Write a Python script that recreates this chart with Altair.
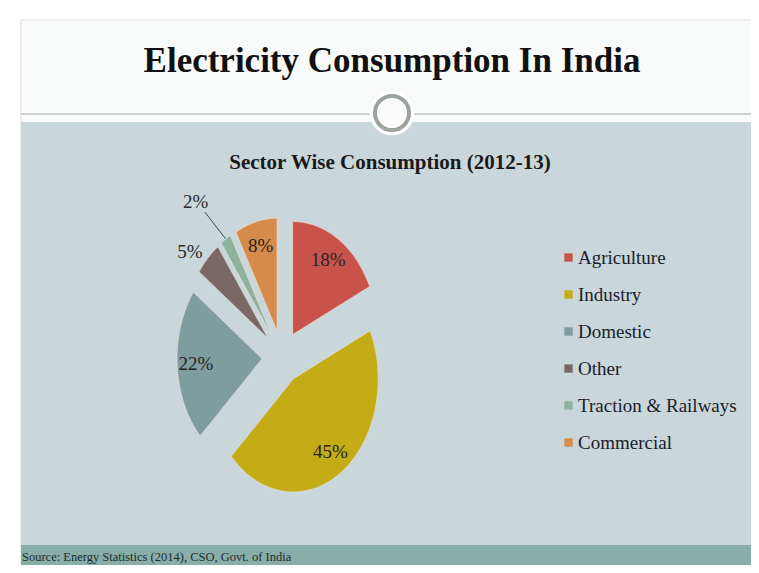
import altair as alt
import pandas as pd

# ---- data ----
sectors = ["Agriculture", "Industry", "Domestic", "Other", "Traction & Railways", "Commercial"]
shares = [18, 45, 22, 5, 2, 8]
colors = ["#C9534B", "#C4AC17", "#7F9C9E", "#7A6866", "#8DB29E", "#D68B4A"]

title_text = "Electricity Consumption In India"
subtitle_text = "Sector Wise Consumption (2012-13)"
source_text = "Source: Energy Statistics (2014), CSO, Govt. of India"

# ---- layout constants (pixels, chart coords = page - 8) ----
W, H = 743, 557
CX, CY = 274, 349          # pie centre
RX, RY = 85, 113           # px per unit radius (horizontal / vertical)
EXPL = 0.235               # explosion in radius units

xdom = [-CX / RX, (W - CX) / RX]
ydom = [-(H - CY) / RY, CY / RY]
xs = alt.Scale(domain=xdom, nice=False, zero=False)
ys = alt.Scale(domain=ydom, nice=False, zero=False)

df = pd.DataFrame({"sector": sectors, "value": shares, "order": list(range(len(sectors)))})
one = pd.DataFrame({"k": [0]})

SERIF = "Liberation Serif"


def rect(x, x2, y, y2, fill, stroke=None):
    kw = dict(fill=fill)
    if stroke:
        kw.update(stroke=stroke, strokeWidth=1)
    return alt.Chart(one).mark_rect(**kw).encode(
        x=alt.value(x), x2=alt.value(x2), y=alt.value(y), y2=alt.value(y2))


outer = rect(13, W + 20, 12, H + 20, "#F9FBFA", "#DADFDD")
header = rect(14, W + 20, 13, 114, "#F9FBFA")
panel = rect(13, W + 20, 114, 537, "#C9D6DA")
footer = rect(13, W + 20, 537, 563, "#88AEA7")
hline = alt.Chart(one).mark_rule(stroke="#CDD2D0", strokeWidth=2).encode(
    x=alt.value(13), x2=alt.value(W + 20), y=alt.value(106))
halo = alt.Chart(one).mark_point(shape="circle", filled=True, fill="#FFFFFF", opacity=1,
                                 size=2000, strokeWidth=0).encode(
    x=alt.value(384), y=alt.value(105))
ring = alt.Chart(one).mark_point(shape="circle", filled=True, fill="#FBFCFB", opacity=1,
                                 stroke="#9CA39F", strokeWidth=4, size=1160).encode(
    x=alt.value(384), y=alt.value(105))


def txt(s, x, y, size, bold=False, align="center", color="#111111"):
    return alt.Chart(pd.DataFrame({"t": [s]})).mark_text(
        font=SERIF, fontSize=size, fontWeight="bold" if bold else "normal",
        align=align, baseline="middle", color=color).encode(
        x=alt.value(x), y=alt.value(y), text="t:N")


title = txt(title_text, 384, 53, 35, bold=True)
subtitle = txt(subtitle_text, 382, 155, 21, bold=True, color="#1a1a1a")
source = txt(source_text, 14, 549, 12.5, align="left", color="#1d2b2a")

base = alt.Chart(df).transform_joinaggregate(
    total="sum(value)"
).transform_window(
    cum="sum(value)", sort=[alt.SortField("order")], frame=[None, 0]
).transform_calculate(
    a0="2*PI*(datum.cum - datum.value)/datum.total",
    a1="2*PI*datum.cum/datum.total",
).transform_calculate(
    am="(datum.a0 + datum.a1)/2"
).transform_calculate(
    ox=f"{EXPL}*sin(datum.am)",
    oy=f"{EXPL}*cos(datum.am)",
    pct="format(datum.value/datum.total, '.0%')",
)

N = 60
pie = base.transform_calculate(
    idx=f"sequence(0, {N + 2})"
).transform_flatten(["idx"]).transform_calculate(
    t=f"clamp((datum.idx - 1)/{N - 1}, 0, 1)",
    r=f"(datum.idx == 0 || datum.idx == {N + 1}) ? 0 : 1",
).transform_calculate(
    ang="datum.a0 + (datum.a1 - datum.a0)*datum.t"
).transform_calculate(
    px="datum.ox + datum.r*sin(datum.ang)",
    py="datum.oy + datum.r*cos(datum.ang)",
).mark_line(stroke="#EFE3DA", strokeWidth=1, strokeOpacity=0.55, interpolate="linear").encode(
    x=alt.X("px:Q", scale=xs, axis=None),
    y=alt.Y("py:Q", scale=ys, axis=None),
    order=alt.Order("idx:Q"),
    fill=alt.Fill("sector:N", scale=alt.Scale(domain=sectors, range=colors),
                  sort=sectors,
                  legend=alt.Legend(title=None, orient="none", legendX=551, legendY=240,
                                    symbolType="square", symbolSize=70, symbolStrokeWidth=0,
                                    labelFont=SERIF, labelFontSize=19, labelColor="#1b1d2b",
                                    labelOffset=0, rowPadding=17, labelLimit=300)),
)

inside = base.transform_filter("datum.value >= 6").transform_calculate(
    lx="datum.ox + 0.78*sin(datum.am)",
    ly="datum.oy + 0.78*cos(datum.am)",
).mark_text(font=SERIF, fontSize=19, color="#2a2222", align="center", baseline="middle").encode(
    x=alt.X("lx:Q", scale=xs, axis=None),
    y=alt.Y("ly:Q", scale=ys, axis=None),
    text="pct:N",
)

outside = base.transform_filter("datum.value < 6").transform_calculate(
    lr="datum.value < 3 ? 1.62 : 1.32",
).transform_calculate(
    lx="datum.lr*sin(datum.am)",
    ly="datum.lr*cos(datum.am)",
).mark_text(font=SERIF, fontSize=19, color="#2a2a2a", align="right", baseline="middle").encode(
    x=alt.X("lx:Q", scale=xs, axis=None),
    y=alt.Y("ly:Q", scale=ys, axis=None),
    text="pct:N",
)

leader = base.transform_filter("datum.value < 3").transform_calculate(
    x1="1.24*sin(datum.am)", y1="1.24*cos(datum.am)",
    x2="1.57*sin(datum.am - 0.05)", y2="1.57*cos(datum.am - 0.05)",
).mark_rule(color="#3d4a4a", strokeWidth=1).encode(
    x=alt.X("x1:Q", scale=xs, axis=None),
    y=alt.Y("y1:Q", scale=ys, axis=None),
    x2="x2:Q", y2="y2:Q",
)

chart = alt.layer(
    outer, header, panel, footer, hline, halo, ring, title, subtitle, source,
    pie, inside, outside, leader
).properties(
    width=W, height=H, padding=0, autosize=alt.AutoSizeParams(type="none"),
    background="#FFFFFF"
).configure_view(stroke=None)

chart.save("out.html", embed_options={"renderer": "svg", "actions": False})
